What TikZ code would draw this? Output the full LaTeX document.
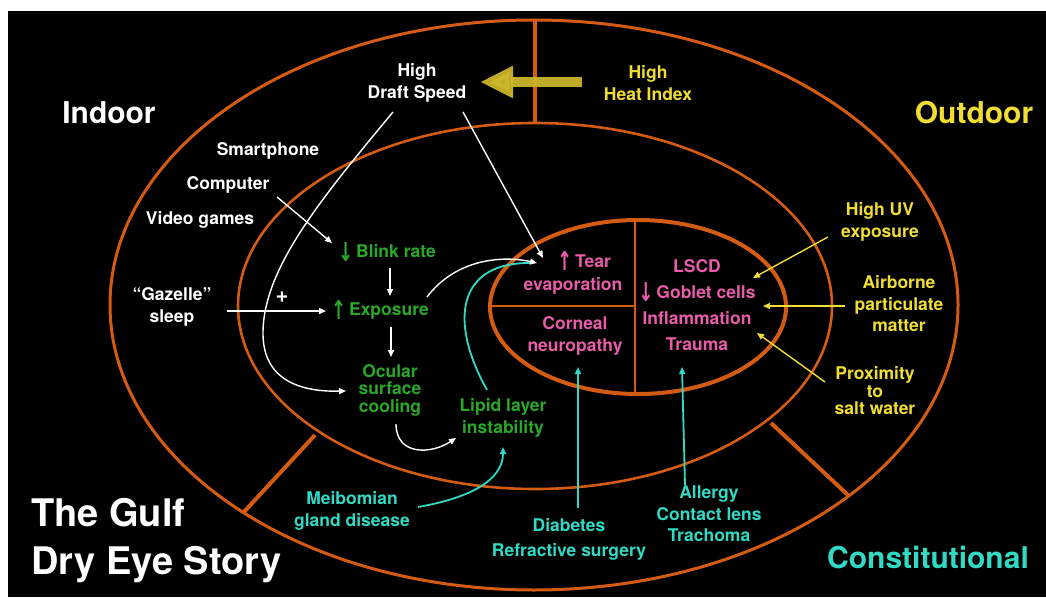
\documentclass[tikz,border=0pt]{standalone}
\usepackage{fontspec}
\usepackage{graphicx}
\setmainfont{TeX Gyre Heros}
\newfontfamily\symfont{DejaVu Sans}
\usetikzlibrary{arrows.meta}
\definecolor{ring}{RGB}{212,92,18}
\definecolor{ylw}{RGB}{240,222,50}
\definecolor{grn}{RGB}{42,168,40}
\definecolor{pnk}{RGB}{232,92,170}
\definecolor{tel}{RGB}{48,218,196}
\definecolor{bigarrow}{RGB}{206,184,42}
\newcommand{\uparr}{\raisebox{-3.5pt}{\scalebox{1}[1.45]{\symfont\fontsize{18}{18}\selectfont ↑}}}
\newcommand{\dnarr}{\raisebox{-3.5pt}{\scalebox{1}[1.45]{\symfont\fontsize{18}{18}\selectfont ↓}}}
\begin{document}
\begin{tikzpicture}[x=1pt,y=-1pt,
  lbl/.style={font=\bfseries\fontsize{17.5}{21.5}\selectfont, align=center, inner sep=0pt},
  tight/.style={font=\bfseries\fontsize{17.5}{17.5}\selectfont},
  big/.style={font=\bfseries\fontsize{30}{36}\selectfont, inner sep=0pt},
  ringline/.style={draw=ring, line width=3pt},
  divider/.style={draw=ring, line width=4pt},
  conn/.style={line width=1.4pt, -{Triangle[length=7pt,width=6pt]}},
  tconn/.style={line width=1.8pt, draw=tel, -{Triangle[length=7pt,width=6pt]}}]
% background
\fill[white] (0,0) rectangle (1046,599);
\fill[black] (8,11) rectangle (1046,597);
\useasboundingbox (0,0) rectangle (1046,599);

% rings
\draw[divider] (535,21) -- (535,123);
\draw[divider] (315,435) -- (243,513);
\draw[divider] (771,423) -- (849,496);
\draw[ringline] (534,305) ellipse [x radius=424, y radius=285];
\draw[ringline, line width=2.6pt] (535,306) ellipse [x radius=297, y radius=183];
\draw[draw=ring, line width=2pt] (635,220) -- (635,394);
\draw[draw=ring, line width=2pt] (490,306) -- (635,306);
\draw[draw=ring, line width=4pt] (638,307) ellipse [x radius=148, y radius=87];

% big labels
\node[big, white] (indoor) at (109,113) {Indoor};
\node[big, ylw] (outdoor) at (974,113) {Outdoor};
\node[big, tel] (const) at (928,557) {Constitutional};
\node[white, font=\bfseries\fontsize{38}{48}\selectfont, align=left, anchor=west, inner sep=0pt] (title) at (31,541) {The Gulf\\Dry Eye Story};

% white labels
\node[lbl, white] (smart) at (268,151) {Smartphone};
\node[lbl, white] (comp) at (228,185) {Computer};
\node[lbl, white] (video) at (200,220) {Video games};
\node[lbl, white] (gaz) at (172,307) {“Gazelle”\\sleep};
\node[lbl, white] (draft) at (417,83) {High\\Draft Speed};
\node[lbl, white, font=\bfseries\fontsize{22}{22}\selectfont] (plus) at (282,297) {+};

% yellow labels
\node[lbl, ylw] (heat) at (648,83) {High\\Heat Index};
\node[lbl, ylw] (uv) at (880,222) {High UV\\exposure};
\node[lbl, ylw] (air) at (899,304) {Airborne\\particulate\\matter};
\node[lbl, ylw, tight] (prox) at (875,391) {Proximity\\to\\salt water};

% green labels
\node[lbl, grn] (blink) at (387,252) {\dnarr\,Blink rate};
\node[lbl, grn] (expo) at (380,310) {\uparr\,Exposure};
\node[lbl, grn, tight] (ocular) at (390,390) {Ocular\\surface\\cooling};
\node[lbl, grn] (lipid) at (503,418) {Lipid layer\\instability};

% pink labels
\node[lbl, pnk, font=\bfseries\fontsize{17.5}{23}\selectfont] (tear) at (573,273) {\hspace*{22pt}\uparr\,Tear\\evaporation};
\node[lbl, pnk] (corneal) at (575,336) {Corneal\\neuropathy};
\node[lbl, pnk, font=\bfseries\fontsize{17.5}{26}\selectfont] (right) at (697,305) {LSCD\\\dnarr\,Goblet cells\\Inflammation\\Trauma};

% teal labels
\node[lbl, tel] (meib) at (352,511) {Meibomian\\gland disease};
\node[lbl, tel, font=\bfseries\fontsize{17.5}{25}\selectfont] (diab) at (569,539) {Diabetes\\Refractive surgery};
\node[lbl, tel] (allergy) at (709,514) {Allergy\\Contact lens\\Trachoma};

% connector end points
\coordinate (heatW) at (582,82);
\coordinate (draftE) at (480,82);
\coordinate (draftSE) at (463,112);
\coordinate (draftSW) at (393,112);
\coordinate (tearW) at (543,258);
\coordinate (tearL) at (537,263);
\coordinate (ocularW) at (346,391);
\coordinate (compSE) at (277,197);
\coordinate (blinkW) at (332,243);
\coordinate (gazE) at (227,311);
\coordinate (expoW) at (326,311);
\coordinate (blinkS) at (390,268);
\coordinate (expoN) at (390,296);
\coordinate (expoS) at (391,327);
\coordinate (ocularN) at (391,357);
\coordinate (expoE) at (427,297);
\coordinate (ocularS) at (396,424);
\coordinate (lipidW) at (456,438);
\coordinate (lipidT) at (487,390);
\coordinate (tearT) at (531,263);
\coordinate (meibE) at (418,507);
\coordinate (lipidS) at (503,447);
\coordinate (diabN) at (578,508);
\coordinate (cornealS) at (578,367);
\coordinate (allergyN) at (685,485);
\coordinate (traumaS) at (682,367);
\coordinate (uvW) at (828,237);
\coordinate (lscdE) at (753,278);
\coordinate (airW) at (845,306);
\coordinate (gobletE) at (763,306);
\coordinate (proxW) at (825,382);
\coordinate (inflamE) at (757,333);

% big yellow arrow
\draw[draw=bigarrow, draw opacity=0.93, fill=bigarrow, fill opacity=0.93, line width=9.5pt, line cap=butt,
  -{Triangle[length=33pt,width=30pt]}] (heatW) -- (draftE);

% teal connectors
\draw[draw=tel, line width=1.8pt] (lipidT) .. controls (448,320) and (458,262) .. (tearT);
\draw[tconn] (meibE) .. controls (470,498) and (503,480) .. (lipidS);
\draw[tconn] (diabN) -- (cornealS);
\draw[tconn] (allergyN) -- (traumaS);

% white connectors
\draw[conn, white] (draftSE) -- (tearW);
\draw[conn, white] (draftSW) .. controls (320,200) and (262,270) .. (263,335) .. controls (264,380) and (300,392) .. (ocularW);
\draw[conn, white] (compSE) -- (blinkW);
\draw[conn, white] (gazE) -- (expoW);
\draw[conn, white] (blinkS) -- (expoN);
\draw[conn, white] (expoS) -- (ocularN);
\draw[conn, white] (expoE) .. controls (455,260) and (500,255) .. (tearL);
\draw[conn, white] (ocularS) .. controls (396,455) and (430,455) .. (lipidW);

% yellow connectors
\draw[conn, ylw] (uvW) -- (lscdE);
\draw[conn, ylw] (airW) -- (gobletE);
\draw[conn, ylw] (proxW) -- (inflamE);
\end{tikzpicture}
\end{document}
